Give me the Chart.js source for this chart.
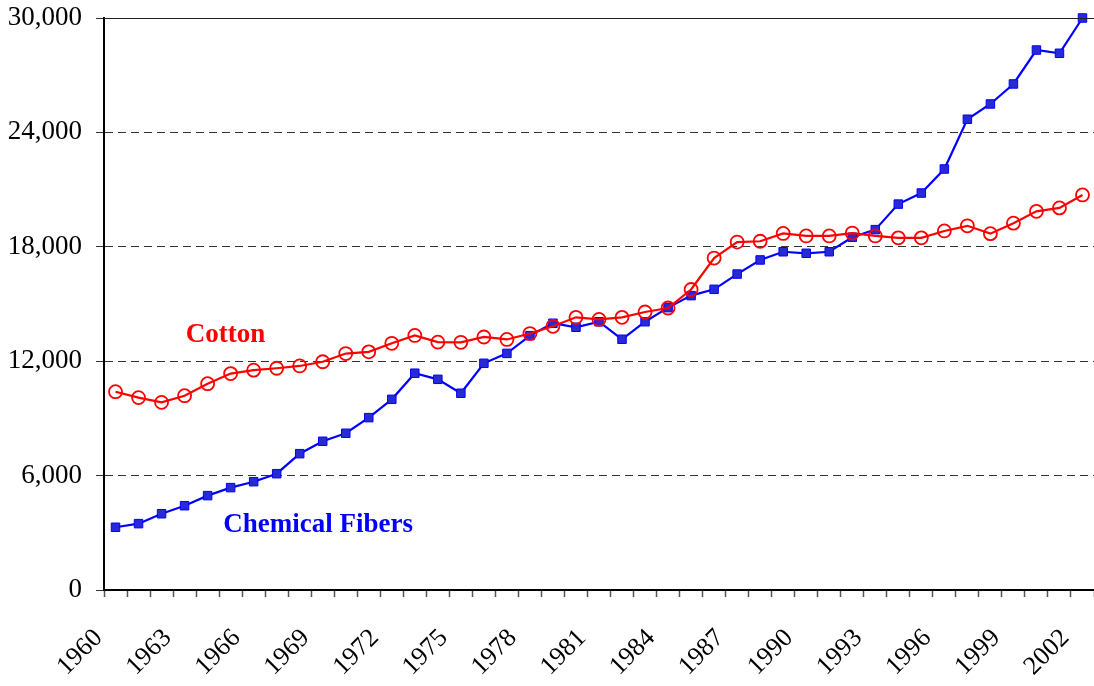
<!DOCTYPE html>
<html>
<head>
<meta charset="utf-8">
<script src="https://cdn.jsdelivr.net/npm/chart.js@4/dist/chart.umd.min.js"></script>
<style>
  html, body { margin: 0; padding: 0; background: #fff; }
  #wrap { width: 1094px; height: 686px; position: relative; }
</style>
</head>
<body>
<div id="wrap"><canvas id="fiber-chart"></canvas></div>
<script>
const years = [];
for (let y = 1960; y <= 2002; y++) years.push(String(y));

const cotton = [10400, 10090, 9840, 10190, 10820, 11350, 11530, 11630, 11750, 11970,
	12400, 12490, 12940, 13350, 13000, 12990, 13270, 13140, 13450, 13830,
	14300, 14190, 14300, 14580, 14790, 15760, 17410, 18250, 18290, 18700,
	18570, 18570, 18720, 18570, 18470, 18470, 18830, 19100, 18690, 19240,
	19860, 20040, 20720];

const chemicalFibers = [3290, 3480, 4000, 4420, 4950, 5370, 5680, 6100, 7150, 7800,
	8220, 9040, 10000, 11370, 11050, 10320, 11890, 12410, 13340, 13990,
	13780, 14070, 13150, 14070, 14810, 15440, 15770, 16570, 17310, 17740,
	17660, 17740, 18500, 18900, 20240, 20820, 22080, 24690, 25490, 26540,
	28320, 28150, 30000];

const yTicks = [0, 6000, 12000, 18000, 24000, 30000];

const serif = "'Liberation Serif', 'Times New Roman', serif";

// series names written inside the plot, placed in data space
const seriesLabels = {
	id: 'seriesLabels',
	afterDraw(chart) {
		const c = chart.ctx;
		const xs = chart.scales.x;
		const ys = chart.scales.y;
		const area = chart.chartArea;
		c.save();
		// solid top edge at 30,000
		c.strokeStyle = '#222';
		c.lineWidth = 1;
		c.beginPath();
		c.moveTo(area.left, area.top + 0.5);
		c.lineTo(area.right, area.top + 0.5);
		c.stroke();

		c.font = "bold 27px " + serif;
		c.textAlign = 'center';
		c.textBaseline = 'alphabetic';
		c.fillStyle = '#ff0000';
		c.fillText('Cotton', xs.getPixelForValue(4.78), ys.getPixelForValue(13000));
		c.fillStyle = '#0000ff';
		c.fillText('Chemical Fibers', xs.getPixelForValue(8.8), ys.getPixelForValue(3040));
		c.restore();
	}
};

const ctx = document.getElementById('fiber-chart').getContext('2d');

new Chart(ctx, {
	type: 'line',
	data: {
		labels: years,
		datasets: [{
			label: 'Chemical Fibers',
			data: chemicalFibers,
			borderColor: '#0000ff',
			borderWidth: 2.2,
			backgroundColor: '#2a2ad4',
			pointStyle: 'rect',
			pointRadius: 6,
			pointBorderWidth: 1,
			pointBorderColor: '#0000ff',
			pointBackgroundColor: '#2a2ad4',
			tension: 0,
			clip: 10,
			order: 2,
		}, {
			label: 'Cotton',
			data: cotton,
			borderColor: '#ff0000',
			borderWidth: 2.2,
			backgroundColor: 'rgba(0,0,0,0)',
			pointStyle: 'circle',
			pointRadius: 6.5,
			pointBorderWidth: 1.8,
			pointBorderColor: '#ff0000',
			pointBackgroundColor: 'rgba(0,0,0,0)',
			tension: 0,
			clip: 10,
			order: 1,
		}]
	},
	options: {
		responsive: true,
		maintainAspectRatio: false,
		animation: false,
		layout: { autoPadding: false, padding: { top: 18, right: 0, left: 0, bottom: 0 } },
		plugins: {
			legend: { display: false },
			tooltip: { enabled: false },
		},
		scales: {
			x: {
				type: 'category',
				offset: true,
				afterFit: scale => {
					scale.height = 96;
					scale.paddingLeft = 0;
					scale.paddingRight = 0;
				},
				grid: {
					offset: true,
					drawOnChartArea: false,
					drawTicks: true,
					tickLength: 7,
					tickColor: '#555',
					tickWidth: 1.5,
				},
				border: { display: true, color: '#000', width: 2 },
				ticks: {
					autoSkip: false,
					maxRotation: 45,
					minRotation: 45,
					padding: 26,
					labelOffset: -17,
					color: '#000',
					font: { family: serif, size: 26 },
					callback: function(value, index) {
						return index % 3 === 0 ? this.getLabelForValue(value) : '';
					},
				},
			},
			y: {
				min: 0,
				max: 30000,
				afterFit: scale => {
					scale.width = 104;
					scale.paddingTop = 0;
					scale.paddingBottom = 0;
				},
				afterBuildTicks: scale => { scale.ticks = yTicks.map(v => ({ value: v })); },
				grid: {
					color: '#333',
					lineWidth: 1,
					drawTicks: true,
					tickLength: 8,
					tickColor: '#333',
					tickBorderDash: [],
				},
				border: { display: true, color: '#000', width: 2, dash: [8, 5] },
				ticks: {
					padding: 14,
					color: '#000',
					font: { family: serif, size: 27 },
					callback: v => v.toLocaleString('en-US'),
				},
			},
		},
	},
	plugins: [seriesLabels],
});
</script>
</body>
</html>
